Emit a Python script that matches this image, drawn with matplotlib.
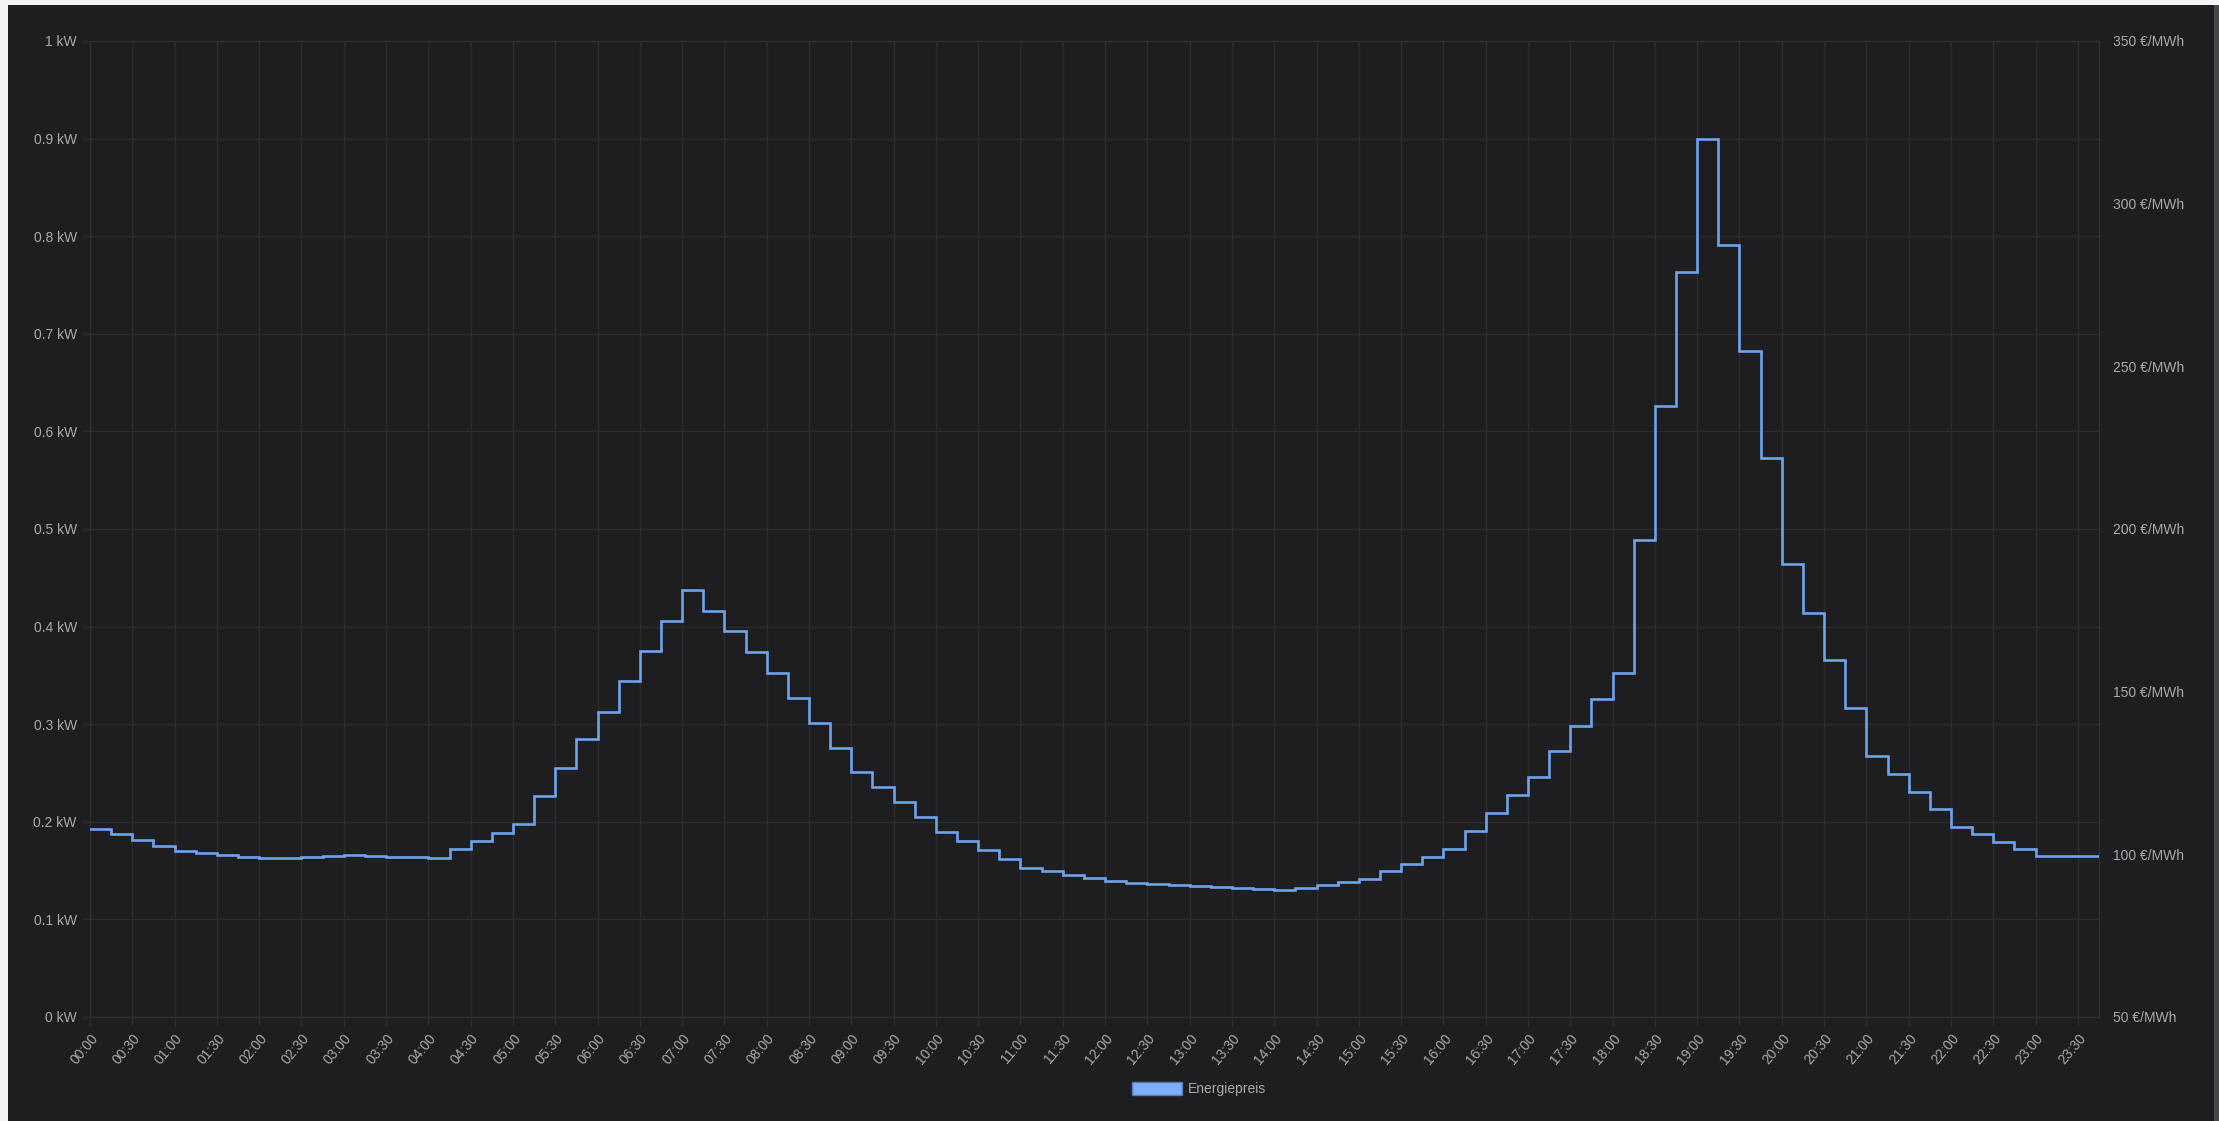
import matplotlib
matplotlib.use("Agg")
import matplotlib.pyplot as plt
from matplotlib.patches import Patch, Rectangle

# 15-minute slots, 00:00 .. 23:45
slot_hours = [i * 0.25 for i in range(96)]
tick_hours = [i * 0.5 for i in range(48)]
tick_labels = [f"{h // 2:02d}:{(h % 2) * 30:02d}" for h in range(48)]

# Energiepreis in €/MWh
price = [
    107.9, 106.2, 104.4, 102.5, 100.9, 100.4, 99.7, 99.2,
    98.8, 99.0, 99.2, 99.4, 99.7, 99.5, 99.2, 99.1,
    98.9, 101.5, 104.0, 106.7, 109.3, 117.9, 126.5, 135.3,
    143.9, 153.3, 162.5, 171.8, 181.1, 174.8, 168.5, 162.1,
    155.7, 148.1, 140.5, 132.8, 125.2, 120.6, 116.0, 111.5,
    106.9, 104.2, 101.3, 98.6, 95.7, 94.8, 93.8, 92.7,
    91.8, 91.3, 91.0, 90.6, 90.2, 89.9, 89.6, 89.3,
    89.0, 89.7, 90.6, 91.5, 92.5, 94.8, 97.1, 99.3,
    101.6, 107.1, 112.8, 118.2, 123.8, 131.7, 139.6, 147.6,
    155.6, 196.7, 237.9, 278.9, 320.0, 287.3, 254.7, 221.9,
    189.2, 174.3, 159.7, 145.1, 130.3, 124.7, 119.2, 113.9,
    108.5, 106.2, 103.9, 101.7, 99.4, 99.4, 99.4, 99.4,
]

kw_ticks = [i / 10 for i in range(11)]
kw_labels = ["0 kW"] + [f"{v:g} kW" for v in kw_ticks[1:-1]] + ["1 kW"]
price_ticks = [50, 100, 150, 200, 250, 300, 350]
price_labels = [f"{v} €/MWh" for v in price_ticks]

BG = "#1e1e20"
GRID = "#2c2c2f"
TEXT = "#a9a9ab"
LINE = "#6ea3ee"

plt.rcParams["font.family"] = ["Liberation Sans", "DejaVu Sans"]
plt.rcParams["font.size"] = 10

W, H = 2219, 1121
fig = plt.figure(figsize=(W / 100, H / 100), dpi=100, facecolor=BG)

# page around the card
fig.add_artist(Rectangle((0, 1 - 5 / H), 1, 5 / H, transform=fig.transFigure,
                         facecolor="#f4f4f4", edgecolor="none"))
fig.add_artist(Rectangle((0, 0), 8 / W, 1, transform=fig.transFigure,
                         facecolor="#f4f4f4", edgecolor="none"))
fig.add_artist(Rectangle((1 - 5 / W, 0), 5 / W, 1 - 5 / H, transform=fig.transFigure,
                         facecolor="#46464c", edgecolor="none"))

left, right, top, bottom = 90, 2099, 41, 1017
ax = fig.add_axes([left / W, 1 - bottom / H, (right - left) / W, (bottom - top) / H])
ax.set_facecolor(BG)

ax.set_xlim(0, slot_hours[-1])
ax.set_ylim(0, 1)
ax.set_yticks(kw_ticks)
ax.set_yticklabels(kw_labels)
ax.set_xticks(tick_hours)
ax.set_xticklabels(tick_labels, rotation=50, ha="right", rotation_mode="anchor")
ax.grid(True, color=GRID, linewidth=1.0)
ax.set_axisbelow(True)
ax.tick_params(axis="both", colors=GRID, labelcolor=TEXT, length=6.5, width=1.0)
ax.tick_params(axis="y", pad=3)
ax.tick_params(axis="x", pad=4)
for sp in ax.spines.values():
    sp.set_color("#303033")
    sp.set_linewidth(1.0)

ax2 = ax.twinx()
ax2.set_ylim(50, 350)
ax2.set_yticks(price_ticks)
ax2.set_yticklabels(price_labels)
ax2.tick_params(axis="y", length=0, pad=10, labelcolor=TEXT)
for sp in ax2.spines.values():
    sp.set_visible(False)

ax2.step(slot_hours, price, where="post", color=LINE, linewidth=1.9,
         solid_joinstyle="miter")

handle = Patch(facecolor="#7eaff6", edgecolor="#4d7cc0", linewidth=1.0, label="Energiepreis")
fig.legend(handles=[handle], loc="center", bbox_to_anchor=(1199 / W, 1 - 1089 / H),
           frameon=False, handlelength=3.6, handleheight=1.15, handletextpad=0.4,
           labelcolor=TEXT, fontsize=10)

fig.savefig("out.png", dpi=100, facecolor=BG)
